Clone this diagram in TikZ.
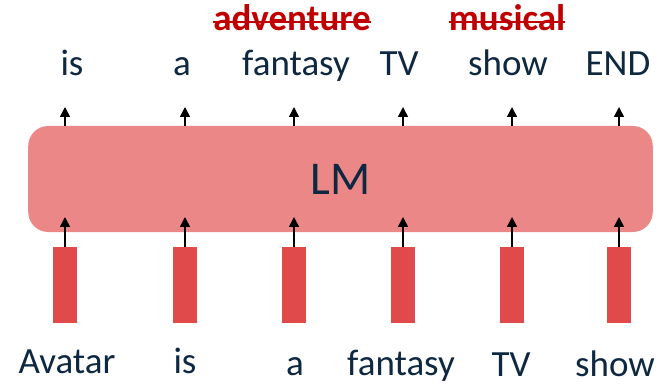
\documentclass[tikz,border=0pt]{standalone}
\usepackage{fontspec}
\setmainfont{Carlito}
\usepackage{tikz}
\usetikzlibrary{arrows.meta}

\definecolor{wordblue}{RGB}{14,40,65}
\definecolor{lmpink}{RGB}{236,135,135}
\definecolor{vecred}{RGB}{224,74,74}
\definecolor{strikered}{RGB}{192,0,0}

\begin{document}
\begin{tikzpicture}[x=0.025cm, y=-0.025cm,
    word/.style={anchor=base, inner sep=0, text=wordblue, font=\fontsize{26.3}{30}\selectfont},
    vec/.style={fill=vecred, minimum width=0.6cm, minimum height=1.9cm, inner sep=0},
    uparrow/.style={-{Triangle[width=7pt, length=7pt]}, line width=1.1pt}]
  \useasboundingbox (0, 0) rectangle (662, 385);

  \node [fill=lmpink, rounded corners=0.5cm, minimum width=15.61cm, minimum height=2.65cm,
    inner sep=0, text=wordblue, font=\fontsize{33.4}{40}\selectfont] (lm) at (340.5, 179) {LM};

  \foreach \x [count=\i] in {65, 185, 294, 403, 512, 619} {
    \node [vec] (v\i) at (\x, 285) {};
    \coordinate (in\i) at (\x, 217);
    \coordinate (out\i) at (\x, 107);
    \draw [uparrow] (v\i.north) -- (in\i);
    \draw [uparrow] (lm.north -| v\i) -- (out\i);
  }

  \foreach \w/\x [count=\i] in {is/72, a/182, fantasy/296, TV/399, show/508, END/618}
    \node [word] (t\i) at (\x, 76) {\w};
  \foreach \w/\x/\y [count=\i] in {Avatar/67/373, is/185/373, a/295/375, fantasy/401/375, TV/511/376, show/615/376}
    \node [word] (b\i) at (\x, \y) {\w};

  \node [word, text=strikered, font=\bfseries\fontsize{26.3}{30}\selectfont] (adv) at (292, 31) {adventure};
  \node [word, text=strikered, font=\bfseries\fontsize{26.3}{30}\selectfont] (mus) at (507, 31) {musical};
  \draw [strikered, line width=2pt] ([yshift=6.4pt]adv.base west) -- ([yshift=6.4pt]adv.base east);
  \draw [strikered, line width=2pt] ([yshift=6.4pt]mus.base west) -- ([yshift=6.4pt]mus.base east);
\end{tikzpicture}
\end{document}
